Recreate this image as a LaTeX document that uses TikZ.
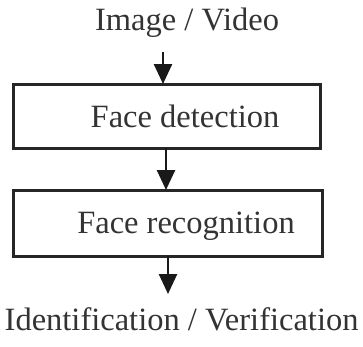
\documentclass[tikz,border=0pt]{standalone}
\usepackage{fontspec}
\setmainfont{Liberation Serif}
\usetikzlibrary{arrows.meta}
\tikzset{
  boxstyle/.style={draw=black!85, line width=3pt, fill=none},
  lbl/.style={anchor=base, inner sep=0pt, text=black!80, font=\fontsize{32.5}{35}\selectfont},
  arr/.style={draw=black!90, line width=2.6pt, -{Triangle[length=20pt,width=18pt]}}
}
\begin{document}
\begin{tikzpicture}[x=1pt,y=-1pt]
\useasboundingbox (0,0) rectangle (363,346);
\node[lbl] (input) at (187,30) {Image / Video};
\draw[boxstyle] (13,84) rectangle (320,148);
\coordinate (b1top) at (163,84);
\coordinate (b1bot) at (166,148);
\node[lbl] (det) at (185,127) {Face detection};
\draw[boxstyle] (13,190) rectangle (322,256);
\coordinate (b2top) at (166,190);
\coordinate (b2bot) at (168,256);
\node[lbl] (rec) at (186,233) {Face recognition};
\node[lbl, anchor=base west] (out) at (4.5,330) {Identification / Verification};
\coordinate (a1s) at (163,52);
\coordinate (a3e) at (168,294);
\draw[arr] (a1s) -- (b1top);
\draw[arr] (b1bot) -- (b2top);
\draw[arr] (b2bot) -- (a3e);
\end{tikzpicture}
\end{document}
